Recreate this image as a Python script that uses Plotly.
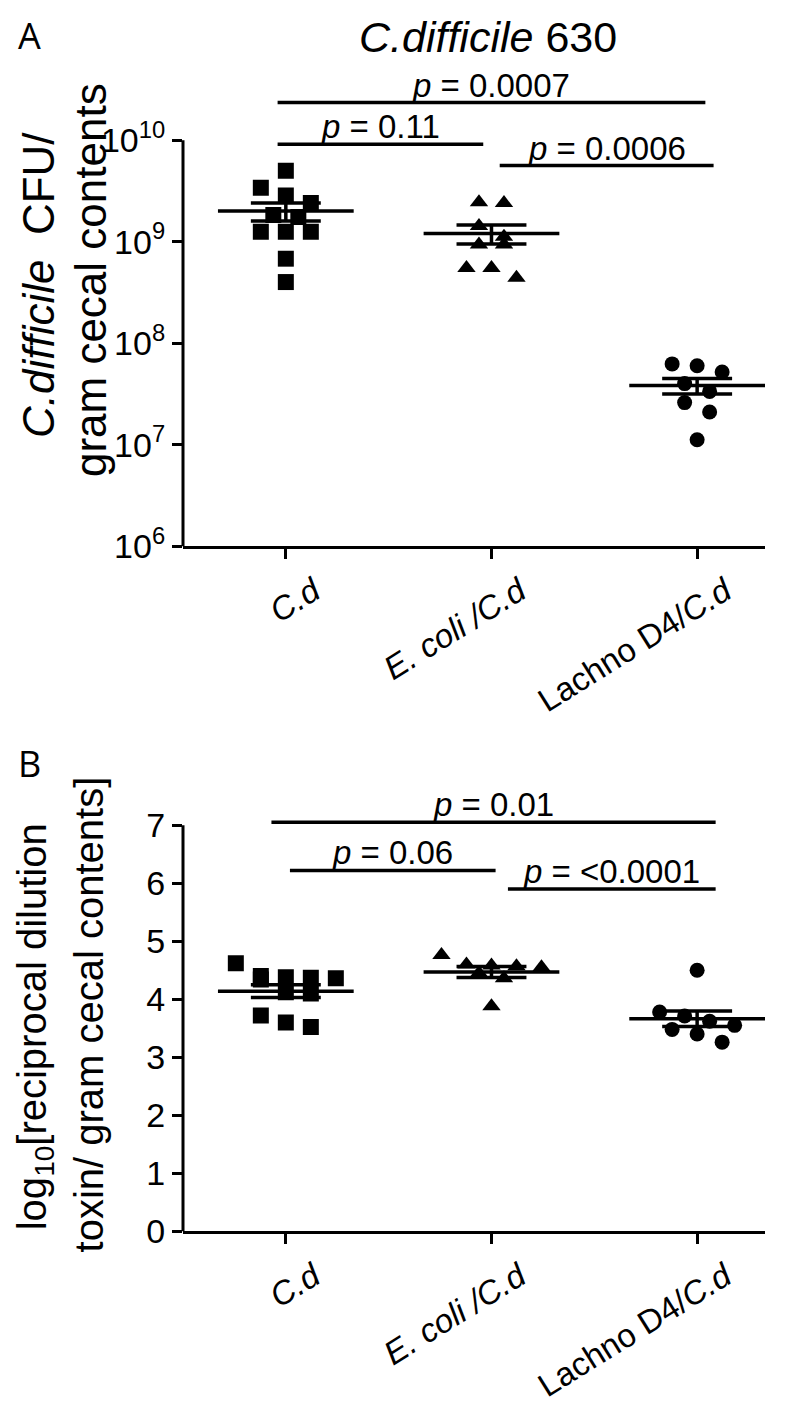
import numpy as np
import plotly.graph_objects as go

W, H = 797, 1402
FONT = "Liberation Sans, Arial, sans-serif"

# ---------------- data ----------------
groups = ["C.d", "E. coli /C.d", "Lachno D4/C.d"]
group_ticktext = ["<i>C.d</i>", "<i>E. coli /C.d</i>", "Lachno D4/<i>C.d</i>"]

# Panel A: C. difficile CFU / gram cecal contents
cfu_cd = [5.0e9, 3.4e9, 2.85e9, 2.4e9, 1.75e9, 1.83e9, 1.25e9, 1.25e9, 1.25e9, 6.8e8, 4.0e8]
cfu_ecoli = [2.4e9, 2.45e9, 1.43e9, 1.12e9, 9.4e8, 9.4e8, 5.5e8, 5.5e8, 4.4e8]
cfu_lachno = [6.0e7, 6.25e7, 5.2e7, 4.0e7, 3.35e7, 2.6e7, 2.1e7, 1.12e7]

# Panel B: log10 reciprocal dilution toxin / gram cecal contents
tox_cd = [4.62, 4.40, 4.38, 4.37, 4.36, 4.34, 4.12, 4.10, 3.72, 3.60, 3.52]
tox_ecoli = [4.76, 4.60, 4.58, 4.57, 4.55, 4.45, 4.36, 3.88]
tox_lachno = [4.50, 3.78, 3.71, 3.62, 3.55, 3.48, 3.40, 3.26]

cfu_tickvals = [1e6, 1e7, 1e8, 1e9, 1e10]
cfu_ticktext = ["10<sup>6</sup>", "10<sup>7</sup>", "10<sup>8</sup>", "10<sup>9</sup>", "10<sup>10</sup>"]
tox_tickvals = [0, 1, 2, 3, 4, 5, 6, 7]
tox_ticktext = ["0", "1", "2", "3", "4", "5", "6", "7"]

pvals_A = ["<i>p</i> = 0.0007", "<i>p</i> = 0.11", "<i>p</i> = 0.0006"]
pvals_B = ["<i>p</i> = 0.01", "<i>p</i> = 0.06", "<i>p</i> = <0.0001"]
pairs = [(0, 2), (0, 1), (1, 2)]

title_A = "<i>C.difficile</i> 630"
ytitle_A = ["<i>C.difficile</i>  CFU/", "gram cecal contents"]
ytitle_B = ["log<sub>10</sub>[reciprocal dilution", "toxin/ gram cecal contents]"]

# ---------------- layout geometry (pixels) ----------------
X_LEFT, X_RIGHT = 175, 757
XRANGE = [-0.5, 2.33]
A_BOT, A_TOP = 545, 80
A_RANGE = [6, 10.515]            # log10 units
B_BOT, B_TOP = 1240, 810
B_RANGE = [0, 7.305]

A_PPU = (A_BOT - A_TOP) / (A_RANGE[1] - A_RANGE[0])
B_PPU = (B_BOT - B_TOP) / (B_RANGE[1] - B_RANGE[0])
SLOT = 25 / ((X_RIGHT - X_LEFT) / (XRANGE[1] - XRANGE[0]))

# bracket levels / spans (layout)
A_LEVELS = [10.37, 9.96, 9.75]
B_LEVELS = [7.05, 6.22, 5.90]
A_PADS = [(-0.04, 0.04), (-0.04, -0.04), (0.04, 0.08)]
B_PADS = [(-0.07, 0.09), (0.02, 0.02), (0.08, 0.09)]

symbols = ["square", "triangle-up", "circle"]
sizes = [16, 16, 15]


def swarm(vals, ppu, log=False, diam_px=16):
    t = np.log10(vals) if log else np.asarray(vals, float)
    order = np.argsort(-t, kind="stable")
    rows = []
    for i in order:
        if rows and (t[rows[-1][0]] - t[i]) * ppu < diam_px:
            rows[-1].append(i)
        else:
            rows.append([i])
    off = np.zeros(len(t))
    for r in rows:
        k = len(r)
        for j, i in enumerate(r):
            off[i] = (j - (k - 1) / 2) * SLOT
    return off


def mean_sem(vals):
    v = np.asarray(vals, float)
    return v.mean(), v.std(ddof=1) / np.sqrt(len(v))


fig = go.Figure()


def add_panel(data, xa, ya, ppu, log):
    for gi, vals in enumerate(data):
        off = swarm(vals, ppu, log=log)
        fig.add_trace(go.Scatter(
            x=gi + off, y=vals, mode="markers", xaxis=xa, yaxis=ya,
            marker=dict(symbol=symbols[gi], size=sizes[gi], color="black", line=dict(width=0)),
            showlegend=False, hoverinfo="skip"))
        m, s = mean_sem(vals)
        xs = [gi - 0.33, gi + 0.33, None, gi - 0.17, gi + 0.17, None,
              gi - 0.17, gi + 0.17, None, gi, gi]
        ys = [m, m, None, m + s, m + s, None, m - s, m - s, None, m - s, m + s]
        fig.add_trace(go.Scatter(
            x=xs, y=ys, mode="lines", xaxis=xa, yaxis=ya,
            line=dict(color="black", width=3.5), showlegend=False, hoverinfo="skip"))


add_panel([cfu_cd, cfu_ecoli, cfu_lachno], "x", "y", A_PPU, True)
add_panel([tox_cd, tox_ecoli, tox_lachno], "x2", "y2", B_PPU, False)

annotations = []


def add_brackets(texts, levels, pads, xa, ya, log):
    for (a, b), txt, lev, (pl, pr) in zip(pairs, texts, levels, pads):
        yv = 10 ** lev if log else lev
        fig.add_trace(go.Scatter(
            x=[a + pl, b + pr], y=[yv, yv], mode="lines", xaxis=xa, yaxis=ya,
            line=dict(color="black", width=3.5), showlegend=False, hoverinfo="skip"))
        annotations.append(dict(
            x=(a + pl + b + pr) / 2, y=lev, xref=xa, yref=ya, text=txt,
            showarrow=False, xanchor="center", yanchor="bottom", yshift=-3,
            font=dict(family=FONT, size=33, color="black")))


add_brackets(pvals_A, A_LEVELS, A_PADS, "x", "y", True)
add_brackets(pvals_B, B_LEVELS, B_PADS, "x2", "y2", False)


def paper_text(txt, xpx, ypx, size, angle=0, family=FONT, xanchor="center"):
    return dict(x=xpx / W, y=1 - ypx / H, xref="paper", yref="paper", text=txt,
                showarrow=False, xanchor=xanchor, yanchor="middle", textangle=angle,
                font=dict(family=family, size=size, color="black"))


annotations += [
    paper_text(title_A, 480, 28, 43),
    paper_text("A", 8, 27, 36, family="Open Sans, sans-serif", xanchor="left"),
    paper_text("B", 8, 765, 36, family="Open Sans, sans-serif", xanchor="left"),
    paper_text(ytitle_A[0], 30, 280, 44, angle=-90),
    paper_text(ytitle_A[1], 82, 275, 44, angle=-90),
    paper_text(ytitle_B[0], 27, 1033, 40, angle=-90),
    paper_text(ytitle_B[1], 81, 1020, 40, angle=-90),
]

axis_common = dict(showgrid=False, zeroline=False, ticks="outside", ticklen=10,
                   tickwidth=3, tickcolor="black", linecolor="black", linewidth=3)

xdom = [X_LEFT / W, X_RIGHT / W]
xaxis_def = dict(domain=xdom, range=XRANGE, showline=True, tickmode="array",
                 tickvals=[0, 1, 2], ticktext=group_ticktext, tickangle=-32,
                 ticklabelshift=28,
                 tickfont=dict(family=FONT, size=33, color="black"), **axis_common)

fig.update_layout(
    width=W, height=H, margin=dict(l=0, r=0, t=0, b=0),
    paper_bgcolor="white", plot_bgcolor="white", showlegend=False,
    xaxis=dict(anchor="y", **xaxis_def),
    yaxis=dict(anchor="x", domain=[1 - A_BOT / H, 1 - A_TOP / H], type="log", range=A_RANGE,
               showline=False, tickmode="array", tickvals=cfu_tickvals, ticktext=cfu_ticktext,
               tickfont=dict(family=FONT, size=34, color="black"), **axis_common),
    xaxis2=dict(anchor="y2", **xaxis_def),
    yaxis2=dict(anchor="x2", domain=[1 - B_BOT / H, 1 - B_TOP / H], range=B_RANGE,
                showline=False, tickmode="array", tickvals=tox_tickvals, ticktext=tox_ticktext,
                tickfont=dict(family=FONT, size=34, color="black"), **axis_common),
    annotations=annotations,
    shapes=[
        dict(type="line", xref="x domain", yref="y domain", x0=0, x1=0, y0=0,
             y1=(10 - A_RANGE[0]) / (A_RANGE[1] - A_RANGE[0]),
             line=dict(color="black", width=3)),
        dict(type="line", xref="x2 domain", yref="y2 domain", x0=0, x1=0, y0=0,
             y1=(7 - B_RANGE[0]) / (B_RANGE[1] - B_RANGE[0]),
             line=dict(color="black", width=3)),
    ],
)

fig.write_html("out.html")
